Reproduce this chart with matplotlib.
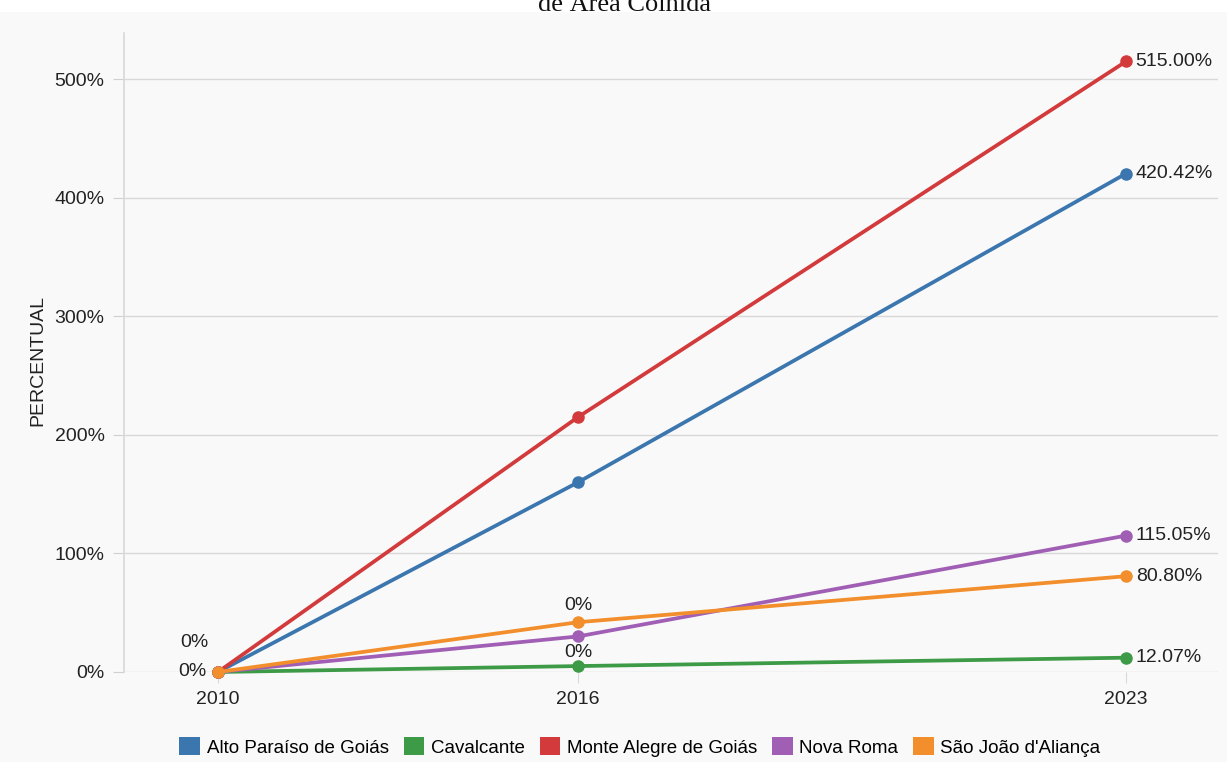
import numpy as np
import matplotlib
matplotlib.use("Agg")
import matplotlib.pyplot as plt
from matplotlib.patches import Rectangle, Patch

plt.rcParams['font.family'] = ['Liberation Sans', 'DejaVu Sans']

# ---- data ----
years = [2010, 2016, 2023]
series_names = ["Alto Paraíso de Goiás", "Cavalcante", "Monte Alegre de Goiás",
                "Nova Roma", "São João d'Aliança"]
alto_paraiso = [0, 160, 420.42]
cavalcante = [0, 5, 12.07]
monte_alegre = [0, 215, 515.00]
nova_roma = [0, 30, 115.05]
sao_joao = [0, 42, 80.80]
colors = ["#3b76af", "#3d9a46", "#d23a3b", "#a05fb4", "#f28e2b"]
yticks = [0, 100, 200, 300, 400, 500]
ylabel = "PERCENTUAL"
title = "de Área Colhida"

values = [alto_paraiso, cavalcante, monte_alegre, nova_roma, sao_joao]

# uneven x spacing as in the reference (piecewise-linear axis)
def fwd(x):
    x = np.asarray(x, dtype=float)
    return np.where(x <= 2016, (x - 2016) * 60.0, (x - 2016) * (548.0 / 7.0))

def inv(u):
    u = np.asarray(u, dtype=float)
    return np.where(u <= 0, 2016 + u / 60.0, 2016 + u / (548.0 / 7.0))

W, H = 1227, 762
fig = plt.figure(figsize=(W / 100, H / 100), dpi=100, facecolor="white")
fig.patches.append(Rectangle((0, 0), 1, (H - 12) / H, transform=fig.transFigure,
                             facecolor="#f9f9f9", edgecolor="none", zorder=-10))
fig.text(625 / W, 1 - 11 / H, title, ha="center", va="baseline",
         fontsize=19, family=["Liberation Serif", "DejaVu Serif"], color="#111111")

ax = fig.add_axes([124 / W, (H - 672) / H, (1218 - 124) / W, (672 - 33) / H])
ax.set_facecolor("none")
ax.set_xscale("function", functions=(fwd, inv))
ax.set_xlim(inv(-454), inv(640))
ax.set_ylim(0, 539)

for name, vals, c in zip(series_names, values, colors):
    ax.plot(years, vals, color=c, lw=2.7, marker="o", ms=8, label=name,
            solid_capstyle="round", zorder=3, clip_on=False)

# end labels
for vals, c in zip(values, colors):
    ax.annotate(f"{vals[-1]:.2f}%", (years[-1], vals[-1]), xytext=(7, 0),
                textcoords="offset points", ha="left", va="center",
                fontsize=14, color="#222222")

# start / middle labels as in reference
ax.annotate(f"{monte_alegre[0]:.0f}%", (years[0], monte_alegre[0]), xytext=(-8, 0),
            textcoords="offset points", ha="right", va="center", fontsize=14, color="#222222")
ax.annotate(f"{alto_paraiso[0]:.0f}%", (years[0], alto_paraiso[0]), xytext=(-17, 21),
            textcoords="offset points", ha="center", va="center", fontsize=14, color="#222222")
ax.annotate("0%", (years[1], sao_joao[1]), xytext=(0, 12),
            textcoords="offset points", ha="center", va="center", fontsize=14, color="#222222")
ax.annotate("0%", (years[1], cavalcante[1]), xytext=(0, 10),
            textcoords="offset points", ha="center", va="center", fontsize=14, color="#222222")

ax.set_yticks(yticks)
ax.set_yticklabels([f"{v}%" for v in yticks])
ax.set_xticks(years)
ax.set_xticklabels([str(y) for y in years])
ax.tick_params(axis="y", length=8, color="#d0d0d0", labelsize=14, labelcolor="#222222", pad=6)
ax.tick_params(axis="x", length=8, color="#d8d8d8", labelsize=14, labelcolor="#222222", pad=6)
ax.grid(axis="y", color="#d8d8d8", lw=1)
ax.set_axisbelow(True)
for s in ["top", "right", "bottom"]:
    ax.spines[s].set_visible(False)
ax.spines["left"].set_color("#d8d8d8")
ax.spines["left"].set_linewidth(1.2)

fig.text(38 / W, (H - 360) / H, ylabel, rotation=90, ha="center", va="center",
         fontsize=14, color="#222222")

handles = [Patch(facecolor=c, edgecolor="none") for c in colors]
fig.legend(handles, series_names, loc="center", bbox_to_anchor=(640 / W, (H - 747) / H),
           ncol=5, frameon=False, fontsize=13.5, handlelength=1.1, handleheight=1.1,
           handletextpad=0.35, columnspacing=0.8, borderaxespad=0)

fig.savefig("out.png", dpi=100, facecolor=fig.get_facecolor())
